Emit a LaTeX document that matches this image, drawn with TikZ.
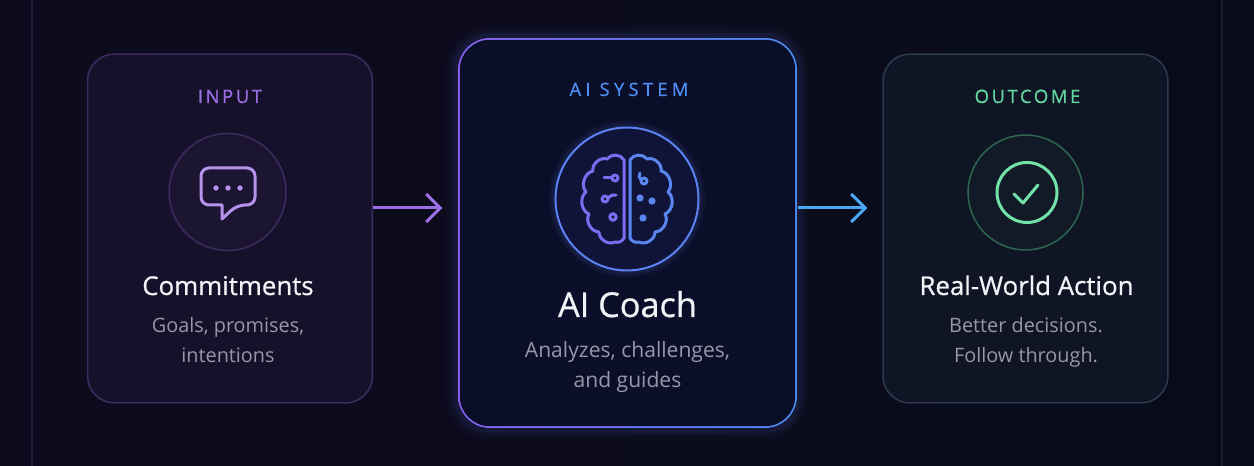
\documentclass[tikz,border=0pt]{standalone}
\usepackage{fontspec}
\setmainfont{Open Sans}
\newfontfamily\tagfont[LetterSpace=14, FakeBold=0.8]{Open Sans}
\newfontfamily\titlefont[FakeBold=0.7]{Open Sans}
\usetikzlibrary{arrows.meta,positioning}
\definecolor{bgleft}{HTML}{0E0B1E}
\definecolor{bgright}{HTML}{080C1A}
\definecolor{edgeline}{HTML}{1E1A34}
\definecolor{infill}{HTML}{16112A}
\definecolor{inedge}{HTML}{3E2C60}
\definecolor{inpurple}{HTML}{9B6FE3}
\definecolor{iconpurple}{HTML}{B592EC}
\definecolor{inring}{HTML}{1B1531}
\definecolor{coachfill}{HTML}{0B0E28}
\definecolor{coachpurple}{HTML}{8C62F2}
\definecolor{coachblue}{HTML}{4C8DF2}
\definecolor{brainpurple}{HTML}{7C6CF2}
\definecolor{brainblue}{HTML}{5A86F2}
\definecolor{brainring}{HTML}{0F1438}
\definecolor{arrowblue}{HTML}{4AA8F2}
\definecolor{outfill}{HTML}{0F1525}
\definecolor{outedge}{HTML}{2C394E}
\definecolor{outgreen}{HTML}{62D49E}
\definecolor{checkgreen}{HTML}{72E2AA}
\definecolor{ringgreen}{HTML}{2E6650}
\definecolor{outring}{HTML}{111A26}
\definecolor{titlewhite}{HTML}{F2F2F7}
\definecolor{subgray}{HTML}{9896A8}

\tikzset{
  card/.style={draw, line width=0.03cm, rounded corners=0.54cm, minimum width=5.7cm, minimum height=6.98cm, inner sep=0pt},
  ring/.style={circle, line width=0.03cm, inner sep=0pt},
  tagtext/.style={font=\tagfont\fontsize{10.5}{12}\selectfont, anchor=base},
  titletext/.style={text=titlewhite, font=\titlefont\fontsize{14.7}{16}\selectfont, anchor=base},
  subtext/.style={text=subgray, font=\fontsize{11.3}{13}\selectfont, anchor=base},
  flow/.style={line width=0.06cm, -{Straight Barb[length=0.28cm, width=0.56cm]}, shorten >=0.3cm},
  iconline/.style={line width=0.06cm, line cap=round, line join=round},
}

\begin{document}
\begin{tikzpicture}[x=0.02cm, y=0.02cm]
\useasboundingbox (0,0) rectangle (1254,466);
\shade[left color=bgleft, right color=bgright] (0,0) rectangle (1254,466);
\draw[edgeline, line width=0.03cm] (32,0) -- (32,466);
\draw[edgeline, line width=0.03cm] (1222,0) -- (1222,466);

% side cards
\node[card, draw=inedge, fill=infill] (input) at (230,237.5) {};
\node[card, draw=outedge, fill=outfill] (outcome) at (1025.5,237.5) {};

% middle card with glow
\foreach \w/\o in {0.5/0.025, 0.34/0.04, 0.2/0.07}
  \draw[coachblue!60!coachpurple, line width=\w cm, opacity=\o, rounded corners=0.64cm] (458,38) rectangle (797,428);
\node[card, draw=none, minimum width=6.78cm, minimum height=7.8cm, rounded corners=0.64cm, left color=coachpurple, right color=coachblue] (coach) at (627.5,233) {};
\fill[coachfill, rounded corners=0.6cm] ([shift={(2.5,2.5)}]coach.south west) rectangle ([shift={(-2.5,-2.5)}]coach.north east);

% arrows
\draw[flow, inpurple] ([yshift=0.41cm]input.east) -- ([yshift=0.41cm]input.east -| coach.west);
\draw[flow, arrowblue] ([yshift=0.41cm]outcome.west -| coach.east) -- ([yshift=0.41cm]outcome.west);

% input icon
\node[ring, draw=inedge, fill=inring, minimum size=2.34cm] (chatring) at (227.5,274) {};
\draw[iconline, iconpurple, rounded corners=0.16cm] (222,261) -- (201,261) -- (201,298) -- (255,298) -- (255,261) -- (237,261) [sharp corners] -- (222,247) -- cycle;
\foreach \x in {216,228,240}
  \fill[iconpurple] (\x,278) circle (2.7);

% coach icon
\foreach \w/\o in {0.3/0.05, 0.18/0.08}
  \draw[brainblue, line width=\w cm, opacity=\o] (627,267) circle (71);
\node[ring, draw=coachblue!75!coachpurple, fill=brainring, line width=0.04cm, minimum size=2.86cm] (brainbox) at (627,267) {};
\begin{scope}[shift={(627,266)}]
  \foreach \s/\c in {1/brainpurple, -1/brainblue}
    \draw[iconline, \c, xscale=\s] (-3,40) to[bend right=60] (-20,41) to[bend right=60] (-34,29)
      to[bend right=60] (-41,8) to[bend right=60] (-38,-14) to[bend right=60] (-28,-32)
      to[bend right=60] (-12,-42) to[bend right=40] (-3,-38) -- cycle;
  \draw[iconline, brainpurple] (-23,22) -- (-15,22);
  \draw[iconline, brainpurple] (-12,22) circle (3);
  \draw[iconline, brainpurple] (-22,1) circle (3);
  \draw[iconline, brainpurple] (-19,2) to[bend left=30] (-11,5);
  \draw[iconline, brainpurple] (-14,-17) circle (3.2);
  \draw[iconline, brainblue] (13,27) to[bend right=40] (14,20);
  \draw[iconline, brainblue] (17,19) circle (3);
  \foreach \x/\y in {13/2, 25/-1, 16/-18}
    \fill[brainblue] (\x,\y) circle (3.6);
\end{scope}

% outcome icon
\node[ring, draw=ringgreen, fill=outring, minimum size=2.3cm] (checkring) at (1025.5,273.5) {};
\node[ring, draw=checkgreen, line width=0.06cm, minimum size=1.2cm] (check) at (1027,273.5) {};
\draw[iconline, checkgreen] (1014,272) -- (1023,263) -- (1038,281);

% texts
\node[tagtext, text=inpurple] (intag) at (230,363) {INPUT};
\node[tagtext, text=coachblue, font=\tagfont\fontsize{10.5}{12}\selectfont\addfontfeature{LetterSpace=23}] (coachtag) at (629,370) {AI SYSTEM};
\node[tagtext, text=outgreen] (outtag) at (1027.5,363) {OUTCOME};

\node[titletext] (intitle) at (228,171) {Commitments};
\node[titletext, font=\titlefont\fontsize{19.5}{22}\selectfont] (coachtitle) at (627.5,149) {AI Coach};
\node[titletext] (outtitle) at (1026.5,171) {Real-World Action};

\node[subtext] (insub1) at (228,133) {Goals, promises,};
\node[subtext] (insub2) at (228,103) {intentions};
\node[subtext, font=\fontsize{12}{14}\selectfont] (coachsub1) at (627.5,108) {Analyzes, challenges,};
\node[subtext, font=\fontsize{12}{14}\selectfont] (coachsub2) at (627.5,78) {and guides};
\node[subtext] (outsub1) at (1026,133) {Better decisions.};
\node[subtext] (outsub2) at (1026,103) {Follow through.};
\end{tikzpicture}
\end{document}
